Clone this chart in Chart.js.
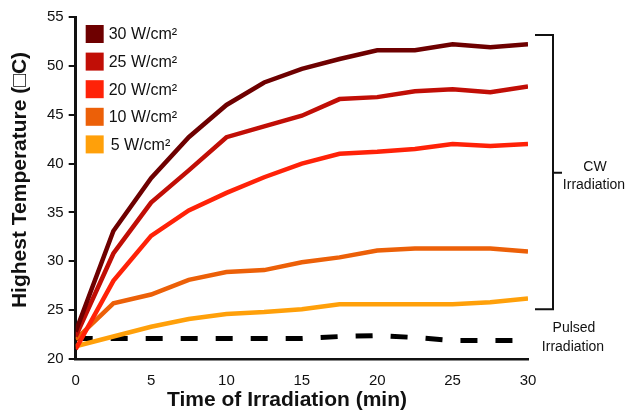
<!DOCTYPE html>
<html>
<head>
<meta charset="utf-8">
<script src="https://cdn.jsdelivr.net/npm/chart.js@4/dist/chart.umd.min.js"></script>
<style>
  html, body { margin: 0; padding: 0; background: #fff; }
  #wrap { width: 630px; height: 411px; }
</style>
</head>
<body>
<div id="wrap"><canvas id="tempChart"></canvas></div>
<script>
// time points (min)
const times = [0, 2.5, 5, 7.5, 10, 12.5, 15, 17.5, 20, 22.5, 25, 27.5, 30];

// highest temperature (C) per power density
const w30 = [22.8, 33.1, 38.5, 42.7, 46.0, 48.3, 49.7, 50.7, 51.6, 51.6, 52.2, 51.9, 52.2];
const w25 = [22.3, 30.8, 36.0, 39.3, 42.7, 43.8, 44.9, 46.6, 46.8, 47.4, 47.6, 47.3, 47.9];
const w20 = [21.0, 28.0, 32.6, 35.2, 37.0, 38.6, 40.0, 41.0, 41.2, 41.5, 42.0, 41.8, 42.0];
const w10 = [22.0, 25.7, 26.6, 28.1, 28.9, 29.1, 29.9, 30.4, 31.1, 31.3, 31.3, 31.3, 31.0];
const w5  = [21.3, 22.3, 23.3, 24.1, 24.6, 24.8, 25.1, 25.6, 25.6, 25.6, 25.6, 25.8, 26.2];
const pulsed = [22.1, 22.1, 22.1, 22.1, 22.1, 22.1, 22.1, 22.3, 22.4, 22.2, 21.9, 21.9, 21.9];

const seriesLabels = ["30 W/cm\u00B2", "25 W/cm\u00B2", "20 W/cm\u00B2", "10 W/cm\u00B2", "5 W/cm\u00B2"];
const seriesColors = ["#6e0000", "#c10e06", "#ff2208", "#ec6008", "#ffa00a"];
const yTicks = [20, 25, 30, 35, 40, 45, 50, 55];
const xTicks = [0, 5, 10, 15, 20, 25, 30];

const FONT = "'Liberation Sans', Arial, sans-serif";
const xTitle = "Time of Irradiation (min)";
const yTitle = "Highest Temperature (\u25A1C)";

function toPoints(vals) {
  return vals.map((v, i) => ({ x: times[i], y: v }));
}

// legend drawn inside the plot area, top left
const innerLegend = {
  id: "innerLegend",
  afterDraw(chart) {
    const ctx = chart.ctx;
    const area = chart.chartArea;
    ctx.save();
    ctx.font = "16px " + FONT;
    ctx.textBaseline = "middle";
    seriesLabels.forEach((lab, i) => {
      const y = area.top + 17 + i * 27.6;
      ctx.fillStyle = seriesColors[i];
      ctx.fillRect(area.left + 10, y - 9, 18, 18);
      ctx.fillStyle = "#111";
      ctx.fillText(lab, area.left + (i === 4 ? 35 : 33), y + 1);
    });
    ctx.restore();
  }
};

// axis titles, brackets and side notes
const sideNotes = {
  id: "sideNotes",
  afterDraw(chart) {
    const ctx = chart.ctx;
    const ys = chart.scales.y;
    ctx.save();
    ctx.fillStyle = "#111";
    ctx.font = "bold 21px " + FONT;
    ctx.textAlign = "center";
    ctx.textBaseline = "middle";
    ctx.fillText(xTitle, 287, 400);
    ctx.save();
    ctx.translate(20, 180);
    ctx.rotate(-Math.PI / 2);
    ctx.fillText(yTitle, 0, 0);
    ctx.restore();

    const top = ys.getPixelForValue(53.15);
    const bot = ys.getPixelForValue(25.1);
    const mid = ys.getPixelForValue(39.05);
    const x0 = 535, x1 = 553;
    ctx.strokeStyle = "#111";
    ctx.lineWidth = 2;
    ctx.beginPath();
    ctx.moveTo(x0, top); ctx.lineTo(x1, top); ctx.lineTo(x1, bot); ctx.lineTo(x0, bot);
    ctx.moveTo(x1, mid); ctx.lineTo(x1 + 9, mid);
    ctx.stroke();
    ctx.font = "14px " + FONT;
    ctx.fillText("CW", 595, mid - 6);
    ctx.fillText("Irradiation", 594, mid + 12);
    const py = ys.getPixelForValue(22.1);
    ctx.fillText("Pulsed", 574, py - 10);
    ctx.fillText("Irradiation", 573, py + 9);
    ctx.restore();
  }
};

const datasets = [w30, w25, w20, w10, w5].map((vals, i) => ({
  label: seriesLabels[i],
  data: toPoints(vals),
  borderColor: seriesColors[i],
  backgroundColor: seriesColors[i],
  borderWidth: 4.5,
  pointRadius: 0,
  tension: 0,
  order: i
}));
datasets.push({
  label: "Pulsed",
  data: toPoints(pulsed),
  borderColor: "#000",
  borderWidth: 5,
  borderDash: [17, 18],
  pointRadius: 0,
  tension: 0,
  order: 10
});

new Chart(document.getElementById("tempChart"), {
  type: "line",
  data: { datasets },
  options: {
    responsive: true,
    maintainAspectRatio: false,
    animation: false,
    layout: { padding: { top: 17, right: 102, bottom: 8, left: 42 } },
    plugins: {
      legend: { display: false },
      tooltip: { enabled: false }
    },
    scales: {
      x: {
        type: "linear",
        min: 0, max: 30,
        afterBuildTicks: (s) => { s.ticks = xTicks.map(v => ({ value: v })); },
        grid: { display: false, drawTicks: false },
        border: { color: "#111", width: 2.5 },
        ticks: { color: "#111", font: { size: 15, family: FONT }, padding: 13 }
      },
      y: {
        min: 20, max: 55,
        afterBuildTicks: (s) => { s.ticks = yTicks.map(v => ({ value: v })); },
        grid: { drawOnChartArea: false, color: "#111", tickLength: 7, lineWidth: 2 },
        border: { color: "#111", width: 3 },
        ticks: { color: "#111", font: { size: 15, family: FONT }, padding: 5 }
      }
    }
  },
  plugins: [innerLegend, sideNotes]
});
</script>
</body>
</html>
